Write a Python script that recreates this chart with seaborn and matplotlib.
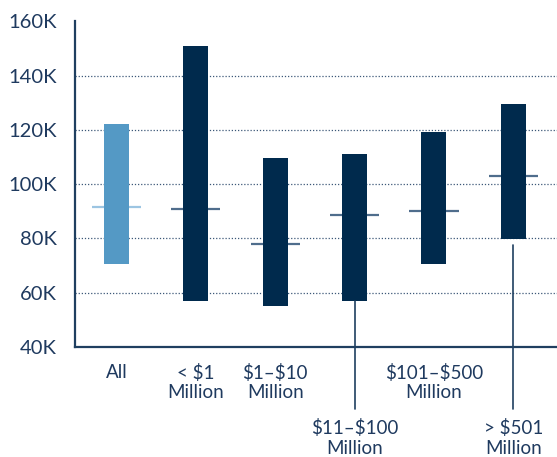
import matplotlib
matplotlib.use("Agg")
import matplotlib.pyplot as plt
import seaborn as sns
import numpy as np
import pandas as pd

# Salary ranges (thousands of dollars) by organization budget size
categories = ["All", "< $1\nMillion", "$1–$10\nMillion", "$11–$100\nMillion",
              "$101–$500\nMillion", "> $501\nMillion"]
low = [70.7, 56.9, 55.1, 56.9, 70.7, 79.8]
high = [122.1, 150.8, 109.6, 111.0, 119.1, 129.4]
median = [91.6, 90.8, 77.9, 88.8, 90.1, 102.9]
yticks = [40, 60, 80, 100, 120, 140, 160]
ytick_labels = ["40K", "60K", "80K", "100K", "120K", "140K", "160K"]

NAVY = "#002a4d"
LIGHT = "#5499c5"
TEXT = "#1f3a5f"

sns.set_theme(style="white")
plt.rcParams["font.family"] = ["Lato", "DejaVu Sans"]

df = pd.DataFrame({"group": categories,
                   "span": np.array(high) - np.array(low)})

fig = plt.figure(figsize=(5.57, 4.57), dpi=100)
ax = fig.add_axes([0.134, 0.2407, 0.866, 0.7127])

sns.barplot(data=df, x="group", y="span", bottom=low, color=NAVY,
            saturation=1, width=0.315, errorbar=None, ax=ax, zorder=3,
            linewidth=0)
ax.patches[0].set_facecolor(LIGHT)

# Median ticks, drawn behind the bars
xs = np.arange(len(categories))
for i, m in enumerate(median):
    col = "#9cc5e2" if i == 0 else "#4f6d8c"
    ax.hlines(m, xs[i] - 0.31, xs[i] + 0.31, color=col, lw=1.6, zorder=2)

ax.set_ylim(40, 160)
ax.set_xlim(-0.527, 5.55)
ax.set_yticks(yticks)
ax.set_yticklabels(ytick_labels, fontsize=14.5, color=TEXT)
ax.tick_params(axis="y", length=0, pad=13)
ax.set_xticks([])
ax.set_xlabel("")
ax.set_ylabel("")

for y in yticks[1:-1]:
    ax.axhline(y, color="#3d5878", lw=0.9, ls=(0, (1, 1.5)), zorder=1)

for s in ["top", "right"]:
    ax.spines[s].set_visible(False)
for s in ["left", "bottom"]:
    ax.spines[s].set_color("#1f3f60")
    ax.spines[s].set_linewidth(1.6)

# Category labels; two of them sit lower with leader lines
lower = {3: None, 5: 77.5}
for i, lab in enumerate(categories):
    if i in lower:
        off = -91
        start = low[i] if lower[i] is None else lower[i]
        ax.plot([xs[i], xs[i]], [start, 17.2], color="#1f3f60", lw=1.2,
                clip_on=False, zorder=4)
    else:
        off = -25 if "\n" not in lab else -35.5
    ax.annotate(lab, xy=(xs[i], 0), xycoords=("data", "axes fraction"),
                xytext=(0, off), textcoords="offset pixels",
                ha="center", va="center", fontsize=13.5, color=TEXT,
                linespacing=1.2, annotation_clip=False, parse_math=False)

fig.savefig("out.png", dpi=100)
